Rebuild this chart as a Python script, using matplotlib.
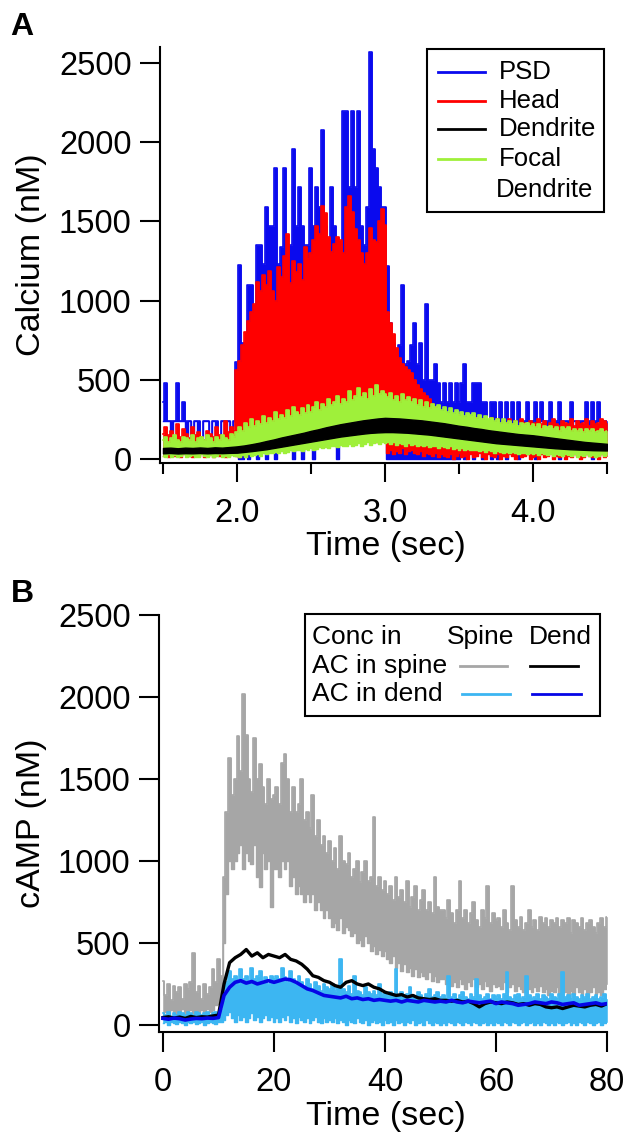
import matplotlib.pyplot as plt
import numpy as np
from matplotlib.lines import Line2D
from matplotlib.patches import Rectangle

plt.rcParams['font.family'] = ['Liberation Sans', 'DejaVu Sans']

W, H = 625, 1136

# ---------------- panel A : calcium, one value every 0.02 s from 1.5 to 4.5 s
ca_time = np.round(np.arange(1.5, 4.5001, 0.02), 2)

# PSD (upper / lower edge of the trace)
psd_hi = ([360, 480, 240, 240, 240, 480, 240, 360, 240, 240,
           120, 240, 240, 120, 240, 240, 120, 240, 240, 120,
           240, 240, 240, 120, 240]
          + [615, 1225, 730, 730, 1100, 1100, 940, 1350, 1350, 1230,
             1590, 1470, 1470, 1835, 1230, 1340, 1835, 1230, 1350, 1960,
             1470, 1720, 1470, 1350, 1350, 1835, 1470, 1720, 1590, 2080,
             1470, 1230, 1720, 1470, 1350, 1350, 2200, 2200, 1720, 2200,
             1720, 2200, 1470, 1350, 1590, 2570, 1960, 1835, 1720, 1590,
             1590]
          + [1220, 860, 730, 600, 720, 1100, 600, 620, 720, 860,
             600, 730, 500, 980, 500, 500, 600, 480, 360, 480,
             360, 480, 360, 480, 360, 480, 600, 360, 360, 480,
             480, 480, 360, 360, 240, 360, 360, 240, 360, 240,
             360, 240, 360, 240, 360, 240, 240, 360, 240, 240,
             360, 240, 360, 240, 240, 360, 240, 240, 360, 240,
             240, 240, 360, 240, 240, 240, 240, 360, 240, 360,
             240, 360, 240, 240, 240])
psd_lo = ([240, 240, 240, 120, 240, 240, 240, 240, 120, 240,
           120, 240, 120, 120, 240, 240, 120, 240, 120, 120,
           240, 120, 240, 120, 240]
          + [120, 0, 0, 60, 0, 120, 120, 0, 120, 120,
             0, 120, 120, 0, 120, 120, 120, 120, 120, 0,
             120, 120, 0, 120, 120, 120, 0, 120, 120, 120,
             120, 120, 120, 120, 0, 120, 120, 120, 120, 120,
             120, 120, 120, 120, 120, 120, 120, 120, 120, 120,
             120]
          + [0, 0, 0, 0, 0, 0, 0, 0, 0, 0,
             0, 0, 0, 0, 0, 0, 0, 0, 0, 0,
             0, 0, 0, 0, 0,
             120, 0, 120, 120, 0, 120, 120, 0, 120, 120,
             0, 120, 0, 120, 120, 0, 120, 120, 120, 0,
             120, 120, 240, 120, 120, 0, 120, 240, 120, 120,
             120, 240, 120, 0, 120, 240, 120, 120, 240, 120,
             120, 240, 120, 120, 0, 120, 240, 120, 240, 120])

# spine head
head_hi = ([160, 200, 150, 180, 120, 220, 140, 190, 160, 130,
            200, 150, 170, 140, 120, 180, 160, 140, 200, 150,
            130, 240, 170, 200, 180]
           + [562, 620, 720, 800, 870, 930, 980, 1120, 1060, 1160,
              1100, 1190, 1060, 1000, 1210, 1150, 1280, 1420, 1110, 1250,
              1180, 1230, 1130, 1340, 1260, 1300, 1380, 1470, 1420, 1600,
              1550, 1400, 1310, 1360, 1400, 1380, 1300, 1590, 1660, 1560,
              1450, 1380, 1300, 1230, 1300, 1460, 1380, 1370, 1500, 1580,
              1480]
           + [930, 860, 790, 700, 640, 600, 580, 560, 540, 500,
              470, 440, 420, 400, 380, 350, 330, 320, 300, 300,
              280, 270, 260, 250, 270, 240, 260, 230, 250, 240,
              260, 230, 250, 220, 240, 260, 230, 250, 220, 240,
              230, 250, 220, 240, 210, 250, 230, 220, 240, 210,
              230, 250, 220, 240, 200, 230, 250, 220, 210, 240,
              230, 220, 250, 210, 240, 220, 230, 250, 210, 240,
              220, 230, 250, 240, 230])
head_lo = ([20, 40, 10, 30, 20, 50, 10, 30, 40, 20,
            10, 30, 20, 40, 10, 20, 30, 10, 40, 20,
            30, 10, 20, 40, 30]
           + [20, 10, 30, 20, 40, 30, 60, 50, 80, 100, 120,
              150, 160, 140, 150, 170, 150, 140, 160, 150, 150,
              160, 150, 140, 160, 150, 170, 150, 140, 150, 160,
              150, 140, 160, 150, 150, 160, 140, 150, 150, 160,
              140, 150, 130, 120, 130, 120, 110, 120, 130, 120]
           + [40, 60, 30, 50, 40, 70, 30, 50, 60, 40,
              30, 50, 20, 40, 30, 20, 40, 10, 30, 20,
              10, 30, 0, 20, 40, 10, 20, 0, 30, 10,
              20, 40, 10, 0, 30, 20, 10, 30, 0, 20,
              10, 30, 20, 0, 40, 10, 20, 30, 0, 10,
              20, 0, 30, 10, 20, 40, 0, 20, 10, 30,
              0, 20, 10, 30, 20, 0, 10, 30, 20, 10,
              20, 0, 30, 10, 20])

# focal dendrite
focal_hi = [120, 140, 110, 130, 150, 120, 110, 140, 130, 120,
            150, 110, 130, 140, 120, 150, 130, 110, 140, 120,
            150, 130, 120, 160, 140,
            170, 200, 180, 230, 200, 250, 210, 240, 220, 270,
            230, 260, 240, 300, 250, 280, 260, 310, 270, 330,
            300, 280, 320, 290, 340, 300, 330, 360, 310, 350,
            330, 380, 340, 360, 400, 350, 380, 360, 430, 370,
            400, 450, 390, 420, 380, 440, 400, 470, 410, 430,
            410, 390, 420, 370, 400, 360, 410, 370, 390, 360,
            380, 340, 370, 330, 360, 320, 350, 330, 340, 310,
            330, 300, 320, 290, 310, 280, 300, 270, 290, 280,
            290, 260, 280, 250, 270, 250, 260, 240, 250, 230,
            250, 230, 240, 220, 240, 210, 230, 220, 230, 210,
            220, 200, 220, 190, 210, 200, 210, 190, 200, 180,
            200, 190, 200, 180, 190, 180, 190, 170, 190, 180,
            190, 170, 180, 190, 170, 180]
focal_lo = [20, 10, 30, 15, 25, 10, 20, 30, 10, 20,
            25, 15, 10, 30, 20, 10, 25, 15, 20, 30,
            10, 20, 15, 25, 20,
            20, 10, 25, 15, 30, 20, 25, 30, 20, 35,
            30, 40, 35, 45, 40, 50, 40, 45, 55, 50,
            55, 60, 50, 65, 60, 70, 60, 65, 75, 70,
            75, 70, 80, 85, 75, 90, 80, 85, 95, 85,
            90, 100, 85, 95, 105, 90, 100, 110, 95, 105,
            100, 110, 95, 105, 90, 100, 95, 85, 100, 90,
            95, 85, 90, 80, 90, 75, 85, 80, 70, 80,
            75, 70, 80, 65, 70, 60, 70, 55, 65, 60,
            55, 60, 50, 55, 45, 55, 50, 40, 50, 45,
            40, 45, 35, 45, 40, 30, 40, 35, 30, 40,
            30, 35, 25, 35, 30, 25, 30, 20, 30, 25,
            20, 30, 25, 20, 30, 15, 25, 20, 30, 20,
            25, 15, 20, 30, 20, 25]

# dendrite, one value every 0.05 s
dend_time = np.round(np.arange(1.5, 4.5001, 0.05), 2)
dend_hi = [70, 72, 68, 72, 70, 73, 70, 74, 72, 76,
           80, 86, 94, 103, 114, 124, 136, 146, 156, 166,
           178, 188, 200, 210, 220, 228, 236, 244, 250, 256,
           260, 258, 256, 252, 248, 244, 238, 232, 226, 218,
           210, 204, 196, 190, 182, 176, 170, 164, 158, 154,
           150, 144, 138, 132, 126, 120, 114, 108, 104, 100,
           96]
dend_lo = [36, 38, 35, 37, 36, 38, 36, 38, 37, 39,
           40, 45, 50, 56, 62, 70, 78, 86, 94, 102,
           110, 118, 126, 134, 142, 148, 154, 160, 165, 168,
           170, 170, 168, 166, 162, 158, 154, 148, 142, 136,
           130, 124, 118, 112, 106, 100, 96, 92, 88, 84,
           80, 76, 72, 68, 65, 62, 60, 58, 56, 55,
           54]

ca_names = ['PSD', 'Head', 'Dendrite', 'Focal']
ca_colors = ['#0a0aee', '#ff0000', '#000000', '#9ff03a']

# ---------------- panel B : cAMP, noisy traces every 0.5 s, smooth ones every 1 s
camp_time = np.arange(0, 80.001, 0.5)
spine_hi = [270, 180, 250, 150, 240, 200, 230, 160, 250, 220,
            260, 440, 200, 240, 160, 250, 190, 230, 340, 260,
            400, 300, 900, 1300, 1630, 1400, 1500, 1760, 1550, 2020,
            1770, 1500, 1420, 1750, 1500, 1590, 1450, 1350, 1500, 1380,
            1400, 1450, 1350, 1600, 1650, 1500, 1300, 1450, 1300, 1350,
            1500, 1250, 1300, 1200, 1400, 1150, 1250, 1100, 1150, 1050,
            1120, 1000, 1080, 950, 1150, 1000, 980, 1050, 900, 950,
            1000, 870, 930, 1000, 880, 900, 1270, 850, 900, 820,
            880, 800, 850, 760, 900, 780, 820, 750, 880, 720,
            780, 850, 700, 760, 820, 700, 750, 680, 900, 720,
            700, 700, 650, 760, 680, 620, 700, 880, 650, 700,
            620, 680, 750, 640, 600, 700, 650, 850, 620, 680,
            640, 650, 600, 700, 620, 580, 850, 640, 600, 660,
            580, 620, 700, 600, 640, 580, 660, 620, 650, 600,
            640, 620, 650, 600, 640, 620, 650, 560, 640, 620,
            600, 650, 580, 620, 640, 600, 560, 620, 650, 600,
            660]
spine_lo = [60, 80, 50, 90, 70, 60, 80, 100, 60, 80,
            90, 70, 80, 60, 90, 70, 100, 80, 90, 120,
            130, 200, 500, 800, 1000, 950, 1000, 1050, 1100, 950,
            1050, 1000, 980, 1100, 900, 840, 1050, 950, 1000, 720,
            950, 950, 900, 1000, 950, 1000, 850, 900, 800, 850,
            800, 750, 800, 750, 800, 700, 750, 700, 650, 700,
            650, 600, 620, 580, 650, 560, 600, 580, 540, 560,
            500, 520, 480, 540, 500, 450, 480, 430, 460, 420,
            450, 400, 380, 420, 350, 380, 330, 370, 320, 350,
            300, 340, 290, 320, 300, 280, 320, 270, 300, 260,
            280, 280, 250, 300, 240, 260, 230, 280, 250, 220,
            260, 240, 280, 230, 250, 220, 270, 240, 210, 250,
            230, 240, 220, 260, 200, 230, 250, 210, 240, 220,
            200, 250, 220, 200, 230, 210, 240, 200, 220, 180,
            210, 200, 230, 180, 220, 200, 160, 210, 190, 230,
            200, 180, 220, 170, 200, 230, 190, 200, 180, 220,
            250]
dendac_hi = [70, 60, 80, 50, 70, 60, 80, 70, 60, 80,
             70, 60, 80, 70, 60, 70, 80, 60, 70, 80,
             60, 90,
             150, 260, 330, 280, 300, 250, 340, 280, 300, 260,
             350, 280, 300, 330, 260, 290, 250, 300, 280,
             300, 280, 350, 290, 260, 330, 280, 250, 300, 260,
             230, 280, 250, 220, 260, 240, 210, 250, 230, 220,
             250, 210, 230, 400, 220, 200, 240, 190, 300, 210,
             200, 180, 230, 200, 190, 210, 180, 250, 190, 200,
             180, 200, 190, 340, 180, 200, 170, 190, 230, 180,
             170, 200, 180, 160, 190, 220, 170, 180, 200, 170,
             180, 160, 300, 170, 190, 160, 180, 200, 170, 160,
             190, 170, 280, 180, 160, 170, 190, 160, 180, 170,
             180, 160, 190, 320, 170, 160, 180, 190, 160, 170,
             300, 180, 160, 170, 190, 160, 180, 170, 160, 190,
             170, 160, 190, 320, 170, 180, 160, 190, 170, 160,
             180, 170, 190, 160, 170, 180, 160, 170, 190, 160]
dendac_lo = [10, 20, 0, 15, 10, 5, 20, 10, 0, 15,
             10, 20, 5, 10, 15, 0, 10, 20, 10, 5,
             15, 20,
             30, 60, 80, 40, 20, 60, 30, 50, 20, 40,
             70, 30, 50, 20, 40, 60, 30, 50, 20,
             40, 20, 50, 30, 60, 20, 40, 10, 50, 30,
             20, 40, 10, 30, 50, 20, 10, 40, 20, 30,
             20, 40, 10, 30, 20, 0, 30, 20, 10, 40,
             20, 10, 30, 0, 20, 30, 10, 20, 0, 30,
             10, 20, 0, 30, 10, 20, 0, 20, 10, 30,
             0, 10, 20, 0, 30, 10, 0, 20, 10, 0,
             10, 0, 20, 10, 0, 20, 10, 0, 20, 10,
             0, 20, 10, 0, 10, 20, 0, 10, 0, 20,
             10, 0, 20, 10, 0, 20, 10, 0, 10, 20,
             0, 10, 20, 0, 10, 0, 20, 10, 0, 10,
             0, 20, 10, 0, 10, 20, 0, 10, 0, 20,
             10, 0, 20, 10, 0, 10, 20, 0, 10, 20]

smooth_time = np.arange(0, 81, 1)
dend_spineac = [45, 50, 42, 48, 40, 52, 45, 50, 48, 55, 60,
                250, 380, 410, 430, 460, 420, 440, 410, 430, 420,
                410, 430, 400, 390, 370, 340, 300, 290, 270, 260,
                240, 230, 260, 270, 250, 240, 250, 230, 220, 200,
                190, 180, 185, 170, 180, 165, 160, 155, 160, 150,
                150, 145, 150, 140, 145, 130, 110, 130, 140, 135,
                130, 140, 135, 125, 130, 120, 130, 125, 110, 105,
                110, 100, 110, 120, 115, 110, 120, 125, 115, 130]
dend_dendac = [40, 35, 42, 38, 30, 36, 40, 38, 42, 40, 45,
               180, 230, 260, 270, 255, 265, 250, 260, 270, 260,
               270, 280, 275, 260, 240, 220, 210, 195, 180, 175,
               170, 165, 175, 160, 165, 155, 160, 150, 155, 150,
               145, 150, 140, 150, 145, 140, 150, 145, 140, 145,
               140, 150, 140, 135, 145, 140, 135, 140, 145, 130,
               140, 135, 130, 120, 125, 130, 140, 135, 130, 140,
               135, 125, 130, 135, 120, 125, 130, 135, 125, 130]

camp_colors = ['#a6a6a6', '#3cb6f2', '#000000', '#0505e6']


def fig_pt(px, py):
    # pixel position in the picture -> figure fraction
    return px / W, 1 - py / H


def band(ax, t, lo, hi, color, z):
    ax.fill_between(t, lo, hi, step='mid', color=color, lw=0.4, zorder=z)
    ax.step(t, hi, where='mid', color=color, lw=1.2, zorder=z)
    ax.step(t, lo, where='mid', color=color, lw=1.0, zorder=z)


def style_axes(ax):
    for s in ['top', 'right']:
        ax.spines[s].set_visible(False)
    for s in ['left', 'bottom']:
        ax.spines[s].set_linewidth(1.5)
    ax.tick_params(which='both', direction='out', width=1.5, labelsize=23.5)
    ax.tick_params(axis='y', length=14.5, pad=6)
    ax.tick_params(axis='x', which='major', length=13.5, pad=12)
    ax.tick_params(axis='x', which='minor', length=8)


fig = plt.figure(figsize=(W / 100, H / 100), dpi=100)

# ---- A
axA = fig.add_axes([160 / W, 1 - 463 / H, 447 / W, 416 / H])
band(axA, ca_time, psd_lo, psd_hi, ca_colors[0], 1)
band(axA, ca_time, head_lo, head_hi, ca_colors[1], 2)
band(axA, ca_time, focal_lo, focal_hi, ca_colors[3], 3)
axA.fill_between(dend_time, dend_lo, dend_hi, color=ca_colors[2], lw=1.0, zorder=4)
axA.set_xlim(1.48, 4.5)
axA.set_ylim(-25, 2601)
axA.set_xticks([2.0, 3.0, 4.0])
axA.set_xticklabels(['2.0', '3.0', '4.0'])
axA.set_xticks([1.5, 2.5, 3.5, 4.5], minor=True)
axA.set_yticks([0, 500, 1000, 1500, 2000, 2500])
style_axes(axA)

# ---- B
axB = fig.add_axes([159 / W, 1 - 1032 / H, 448 / W, 417 / H])
band(axB, camp_time, spine_lo, spine_hi, camp_colors[0], 1)
band(axB, camp_time, dendac_lo, dendac_hi, camp_colors[1], 2)
axB.plot(smooth_time, dend_spineac, color=camp_colors[2], lw=2.4, zorder=3)
axB.plot(smooth_time, dend_dendac, color=camp_colors[3], lw=2.6, zorder=4)
axB.set_xlim(-0.72, 80)
axB.set_ylim(-43, 2500)
axB.set_xticks([0, 20, 40, 60, 80])
axB.set_yticks([0, 500, 1000, 1500, 2000, 2500])
style_axes(axB)
axB.tick_params(axis='x', which='major', length=14.5, pad=11)

# axis titles and panel letters
fig.text(*fig_pt(32, 255), 'Calcium (nM)', rotation=90, ha='center', va='center', fontsize=24.5)
fig.text(*fig_pt(32, 823), 'cAMP (nM)', rotation=90, ha='center', va='center', fontsize=24.5)
fig.text(*fig_pt(386, 546), 'Time (sec)', ha='center', va='center', fontsize=24.5)
fig.text(*fig_pt(386, 1117), 'Time (sec)', ha='center', va='center', fontsize=24.5)
fig.text(*fig_pt(22, 27), 'A', ha='center', va='center', fontsize=23, fontweight='bold')
fig.text(*fig_pt(22, 594), 'B', ha='center', va='center', fontsize=23, fontweight='bold')

# legend A
x0, y0 = fig_pt(427, 212)
x1, y1 = fig_pt(604, 49)
fig.patches.append(Rectangle((x0, y0), x1 - x0, y1 - y0, transform=fig.transFigure,
                             fill=True, facecolor='white', edgecolor='black', lw=1.5, zorder=5))
leg_rows = [72, 101, 129, 159]
for name, color, row in zip(ca_names, ca_colors, leg_rows):
    xa, ya = fig_pt(438, row)
    xb, _ = fig_pt(485, row)
    fig.lines.append(Line2D([xa, xb], [ya, ya], transform=fig.transFigure, color=color, lw=2, zorder=6))
    fig.text(*fig_pt(499, row), name, ha='left', va='center', fontsize=18.5, zorder=6)
fig.text(*fig_pt(496, 190), 'Dendrite', ha='left', va='center', fontsize=18.5, zorder=6)

# legend B
x0, y0 = fig_pt(305, 716)
x1, y1 = fig_pt(600, 614)
fig.patches.append(Rectangle((x0, y0), x1 - x0, y1 - y0, transform=fig.transFigure,
                             fill=True, facecolor='white', edgecolor='black', lw=1.5, zorder=5))
fig.text(*fig_pt(312, 637), 'Conc in', ha='left', va='center', fontsize=19, zorder=6)
fig.text(*fig_pt(447, 637), 'Spine', ha='left', va='center', fontsize=19, zorder=6)
fig.text(*fig_pt(529, 637), 'Dend', ha='left', va='center', fontsize=19, zorder=6)
fig.text(*fig_pt(312, 666), 'AC in spine', ha='left', va='center', fontsize=19, zorder=6)
fig.text(*fig_pt(312, 694), 'AC in dend', ha='left', va='center', fontsize=19, zorder=6)
for (xa_px, xb_px, row), color in zip([(460, 507, 666), (462, 510, 694), (530, 578, 666), (532, 581, 694)],
                                      camp_colors):
    xa, ya = fig_pt(xa_px, row)
    xb, _ = fig_pt(xb_px, row)
    fig.lines.append(Line2D([xa, xb], [ya, ya], transform=fig.transFigure, color=color, lw=2, zorder=6))

fig.savefig('out.png', dpi=100)
